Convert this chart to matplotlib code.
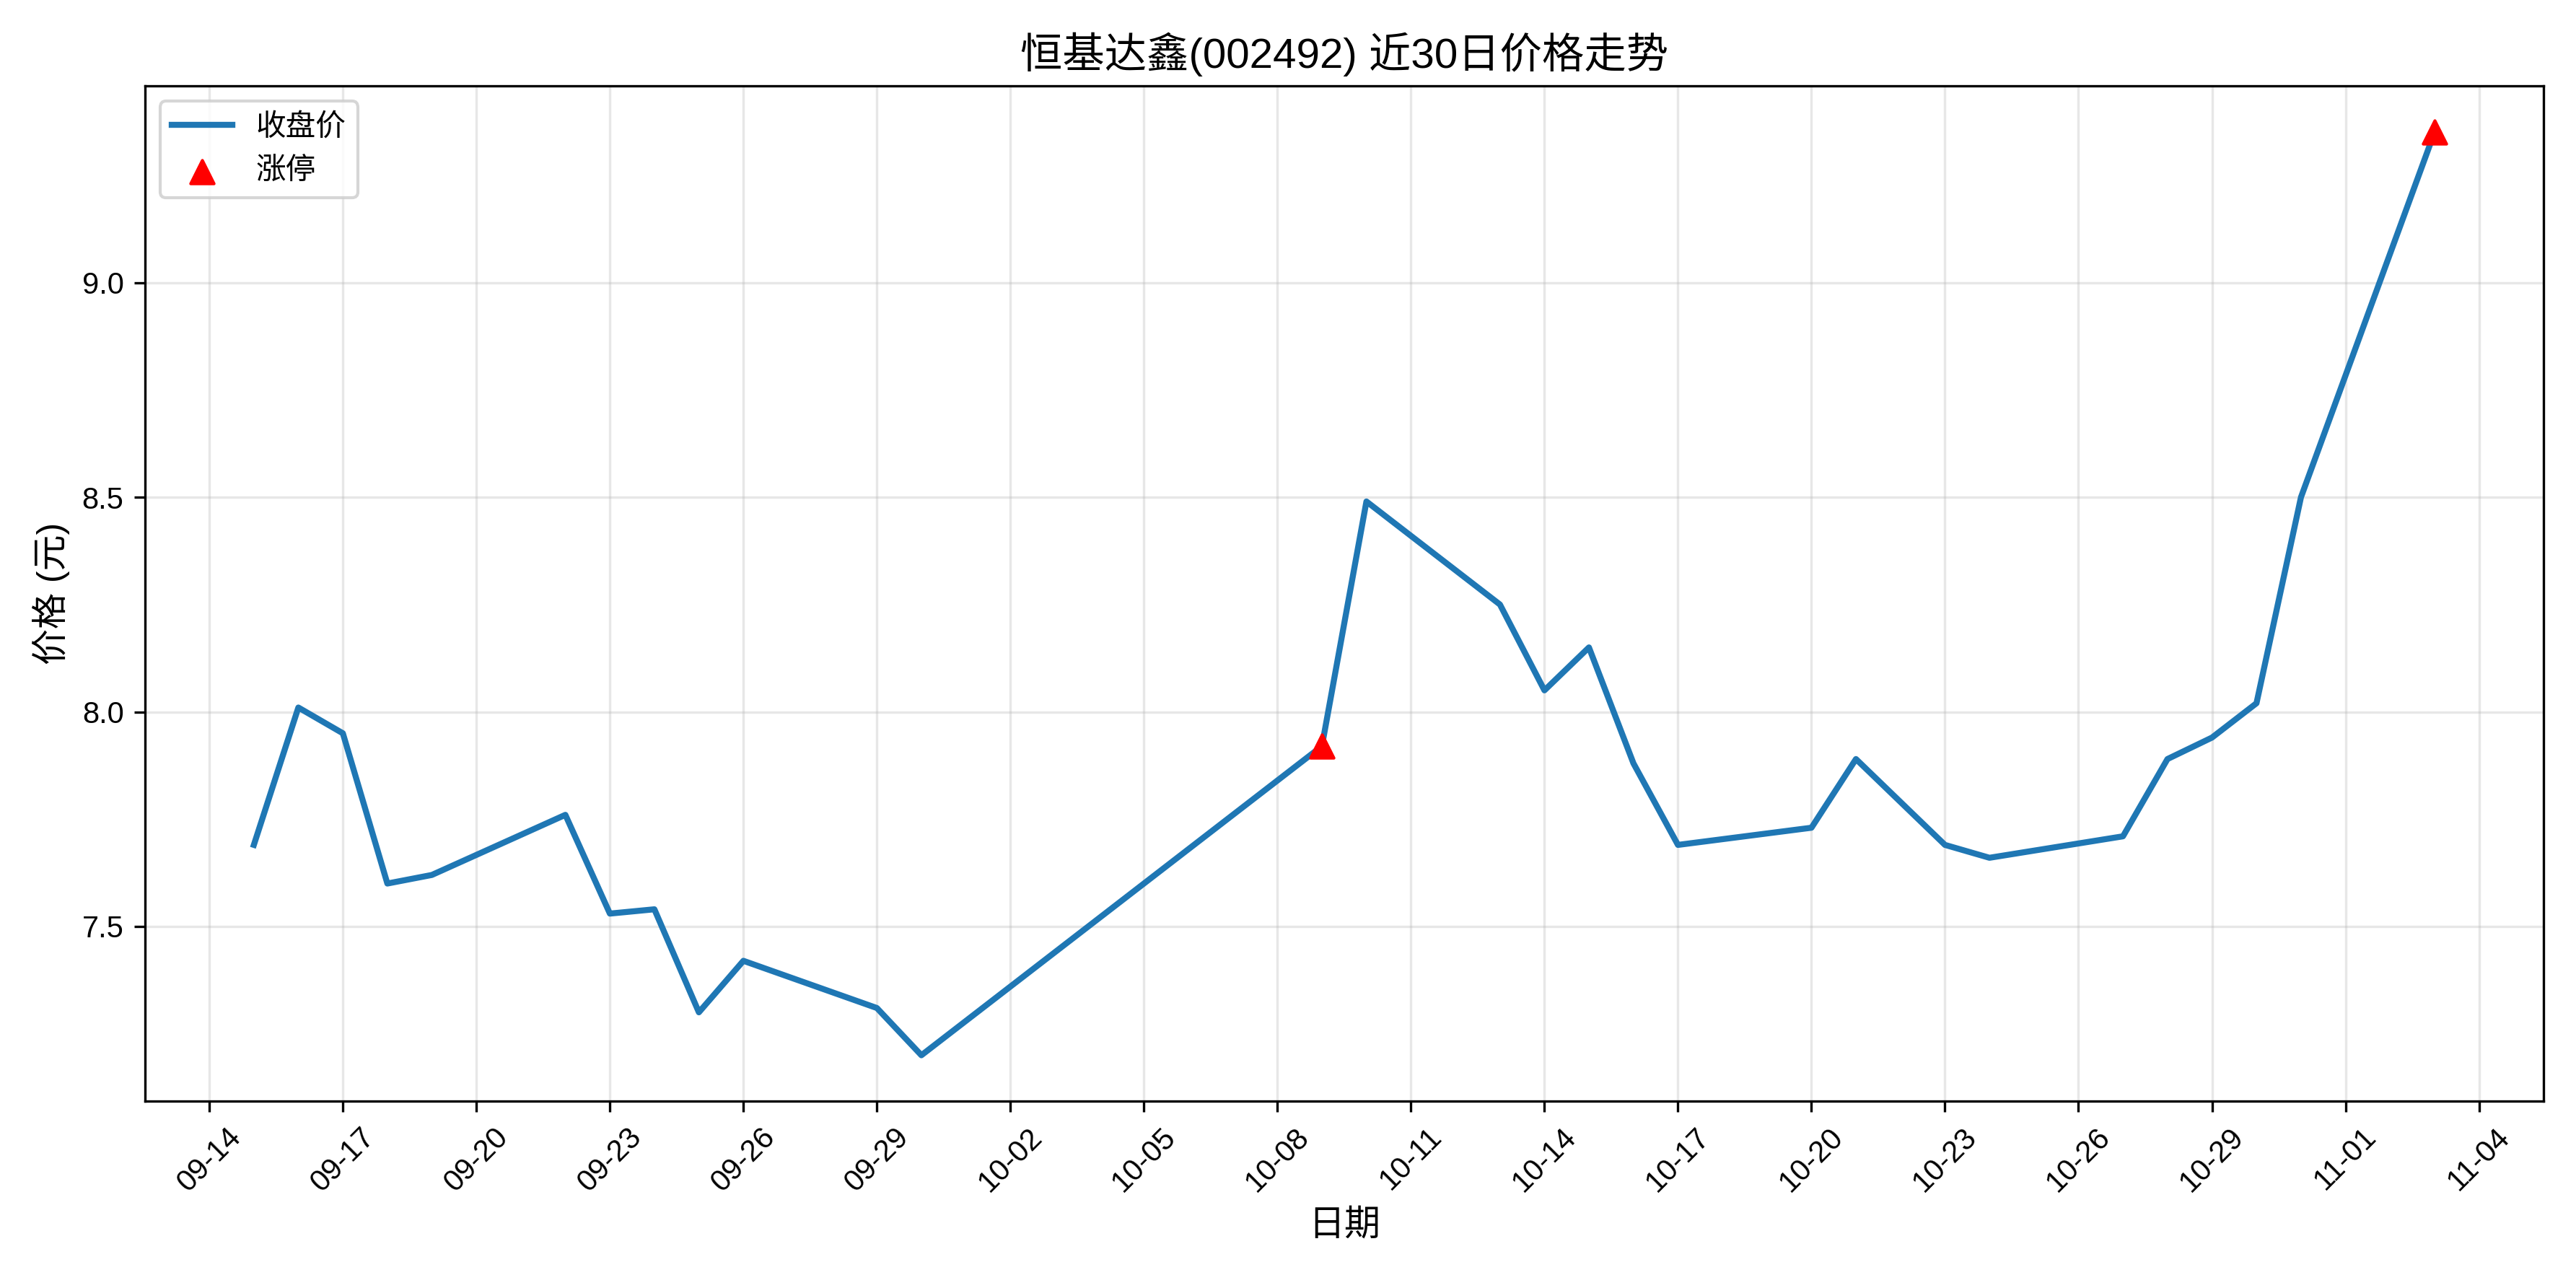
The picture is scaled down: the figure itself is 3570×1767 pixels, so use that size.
import matplotlib
matplotlib.use("Agg")
import matplotlib.pyplot as plt
import matplotlib.dates as mdates
import pandas as pd

plt.rcParams['font.family'] = ['Liberation Sans', 'Noto Sans CJK SC', 'DejaVu Sans']
plt.rcParams['axes.unicode_minus'] = False

dates = ["2025-09-15","2025-09-16","2025-09-17","2025-09-18","2025-09-19","2025-09-22","2025-09-23",
         "2025-09-24","2025-09-25","2025-09-26","2025-09-29","2025-09-30","2025-10-09","2025-10-10",
         "2025-10-13","2025-10-14","2025-10-15","2025-10-16","2025-10-17","2025-10-20","2025-10-21",
         "2025-10-23","2025-10-24","2025-10-27","2025-10-28","2025-10-29","2025-10-30","2025-10-31",
         "2025-11-03"]
close = [7.69,8.01,7.95,7.60,7.62,7.76,7.53,7.54,7.30,7.42,7.31,7.20,7.92,8.49,
         8.25,8.05,8.15,7.88,7.69,7.73,7.89,7.69,7.66,7.71,7.89,7.94,8.02,8.50,9.35]
limit_dates = ["2025-10-09","2025-11-03"]
limit_prices = [7.92,9.35]

d = pd.to_datetime(dates)
ld = pd.to_datetime(limit_dates)

fig, ax = plt.subplots(figsize=(11.9, 5.89), dpi=300)
ax.plot(d, close, color='#1f77b4', lw=2, label='收盘价')
ax.scatter(ld, limit_prices, marker='^', color='red', s=60, zorder=5, label='涨停')
ax.set_title('恒基达鑫(002492) 近30日价格走势', fontsize=14)
ax.set_xlabel('日期', fontsize=12)
ax.set_ylabel('价格 (元)', fontsize=12)
ax.set_xticks(pd.date_range('2025-09-14', '2025-11-04', freq='3D'))
ax.xaxis.set_major_formatter(mdates.DateFormatter('%m-%d'))
plt.setp(ax.get_xticklabels(), rotation=45)
ax.set_yticks([7.5, 8.0, 8.5, 9.0])
ax.grid(True, alpha=0.3)
ax.legend(loc='upper left')
fig.tight_layout()
fig.savefig('out.png', dpi=300)
